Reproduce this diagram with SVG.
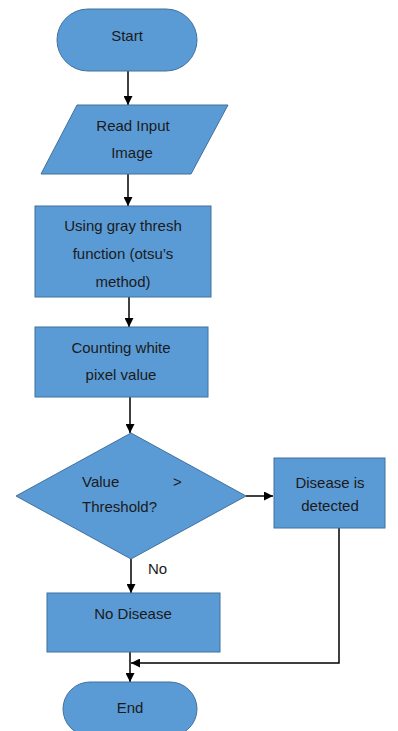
<svg xmlns="http://www.w3.org/2000/svg" width="398" height="731" viewBox="0 0 398 731">
<defs>
<style>
.n{fill:#5B9BD5;stroke:#41719C;stroke-width:1}
.t{font-family:"Liberation Sans",Arial,sans-serif;font-size:15px;fill:#1a1a1a;text-anchor:middle}
.l{font-family:"Liberation Sans",Arial,sans-serif;font-size:15px;fill:#1a1a1a}
.c{fill:none;stroke:#000;stroke-width:1.5}
</style>
<marker id="ah" viewBox="0 0 10 10" refX="10" refY="5" markerWidth="9" markerHeight="9" markerUnits="userSpaceOnUse" orient="auto">
<path d="M0,0 L10,5 L0,10 Z" fill="#000"/>
</marker>
</defs>
<rect width="398" height="731" fill="#fff"/>
<g id="connectors">
<line class="c" x1="128" y1="71" x2="128" y2="105" marker-end="url(#ah)"/>
<line class="c" x1="128" y1="174" x2="128" y2="206" marker-end="url(#ah)"/>
<line class="c" x1="129" y1="297" x2="129" y2="327" marker-end="url(#ah)"/>
<line class="c" x1="130" y1="397" x2="130" y2="433" marker-end="url(#ah)"/>
<line class="c" x1="246" y1="496" x2="273" y2="496" marker-end="url(#ah)"/>
<line class="c" x1="131" y1="559" x2="131" y2="593" marker-end="url(#ah)"/>
<line class="c" x1="130" y1="652" x2="130" y2="682" marker-end="url(#ah)"/>
<polyline class="c" points="339,528 339,663 131,663" marker-end="url(#ah)"/>
<text class="l" x="148" y="574">No</text>
</g>
<g id="start">
<rect class="n" x="57" y="9" width="140" height="62" rx="31"/>
<text class="t" x="127" y="41">Start</text>
</g>
<g id="read">
<polygon class="n" points="77,105 228,105 191,174 41,174"/>
<text class="t" x="133" y="131">Read Input</text>
<text class="t" x="132" y="158">Image</text>
</g>
<g id="gray">
<rect class="n" x="35" y="206" width="176" height="91"/>
<text class="t" x="123" y="231">Using gray thresh</text>
<text class="t" x="123" y="259">function  (otsu’s</text>
<text class="t" x="123" y="287">method)</text>
</g>
<g id="count">
<rect class="n" x="35" y="327" width="173" height="70"/>
<text class="t" x="121" y="353">Counting white</text>
<text class="t" x="121" y="380">pixel value</text>
</g>
<g id="decision">
<polygon class="n" points="131,433 246,496 131,559 16,496"/>
<text class="l" x="82" y="487">Value</text>
<text class="l" x="173" y="487">&gt;</text>
<text class="l" x="82" y="512">Threshold?</text>
</g>
<g id="detected">
<rect class="n" x="274" y="458" width="111" height="70"/>
<text class="t" x="330" y="488">Disease is</text>
<text class="t" x="330" y="511">detected</text>
</g>
<g id="nodisease">
<rect class="n" x="47" y="593" width="173" height="59"/>
<text class="t" x="133" y="619">No Disease</text>
</g>
<g id="end">
<rect class="n" x="63" y="682" width="134" height="54" rx="27"/>
<text class="t" x="130" y="713">End</text>
</g>
</svg>
